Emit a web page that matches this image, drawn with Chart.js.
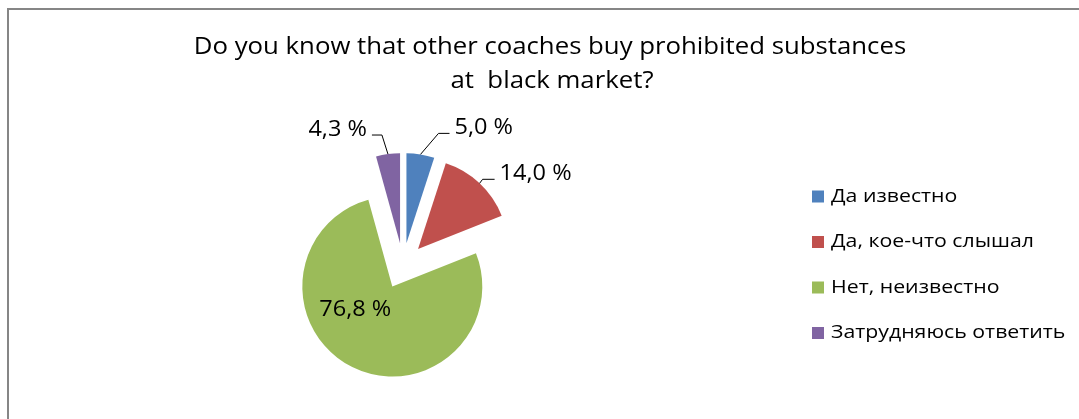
<!DOCTYPE html>
<html>
<head>
<meta charset="utf-8">
<script src="https://cdn.jsdelivr.net/npm/chart.js@4.4.1/dist/chart.umd.min.js"></script>
<style>
  html, body { margin: 0; padding: 0; background: #fff; }
  #wrap { position: relative; width: 1079px; height: 419px; }
</style>
</head>
<body>
<div id="wrap"><canvas id="pie"></canvas></div>
<script>
const TITLE_LINES = ['Do you know that other coaches buy prohibited substances', 'at  black market?'];
const CATEGORIES = ['Да известно', 'Да, кое-что слышал', 'Нет, неизвестно', 'Затрудняюсь ответить'];
const PERCENTS = [5.0, 14.0, 76.8, 4.3];
const COLORS = ['#4f81bd', '#c0504d', '#9bbb59', '#8064a2'];

const FONT = '"Open Sans", "Liberation Sans", sans-serif';
const STRETCH = 1.12; // Open Sans runs a bit narrow, widen it
const EXPLODE = [22, 22, 24, 22]; // how far each slice is pulled away from the centre

// leader lines: leg goes from the rim to the elbow, tail runs flat towards the text
const LABEL_LAYOUT = [
    { leg: [18, -21], tail: 11 },
    { leg: [3, -4], tail: 12 },
    { inside: [-37, 24] },
    { leg: [-6, -19], tail: -10 }
];

const fmtPct = v => v.toFixed(1).replace('.', ',') + ' %';

function drawText(ctx, txt, x, y) {
    ctx.save();
    ctx.translate(x, y);
    ctx.scale(STRETCH, 1);
    ctx.fillText(txt, 0, 0);
    ctx.restore();
}

const sliceGeom = (arc, i) => {
    const mid = (arc.startAngle + arc.endAngle) / 2;
    const cx = arc.x + Math.cos(mid) * EXPLODE[i];
    const cy = arc.y + Math.sin(mid) * EXPLODE[i];
    return { mid, cx, cy };
};

// draw each slice shifted along its middle angle
const explodedSlices = {
    id: 'explodedSlices',
    beforeDatasetDraw(chart, args) {
        const ctx = chart.ctx;
        args.meta.data.forEach((arc, i) => {
            const g = sliceGeom(arc, i);
            ctx.save();
            ctx.translate(g.cx - arc.x, g.cy - arc.y);
            arc.draw(ctx);
            ctx.restore();
        });
        return false;
    }
};

const sliceLabels = {
    id: 'sliceLabels',
    afterDraw(chart) {
        const ctx = chart.ctx;
        const arcs = chart.getDatasetMeta(0).data;
        ctx.save();
        ctx.font = '21px ' + FONT;
        ctx.fillStyle = '#000';
        ctx.strokeStyle = '#000';
        ctx.lineWidth = 1;
        arcs.forEach((arc, i) => {
            const lay = LABEL_LAYOUT[i];
            const g = sliceGeom(arc, i);
            const txt = fmtPct(PERCENTS[i]);
            if (lay.inside) {
                ctx.textAlign = 'center';
                ctx.textBaseline = 'middle';
                drawText(ctx, txt, g.cx + lay.inside[0], g.cy + lay.inside[1]);
                return;
            }
            const ax = g.cx + Math.cos(g.mid) * arc.outerRadius;
            const ay = g.cy + Math.sin(g.mid) * arc.outerRadius;
            const ex = ax + lay.leg[0], ey = ay + lay.leg[1];
            const tx = ex + lay.tail;
            ctx.beginPath();
            ctx.moveTo(ax, ay);
            ctx.lineTo(ex, ey);
            ctx.lineTo(tx, ey);
            ctx.stroke();
            ctx.textBaseline = 'alphabetic';
            ctx.textAlign = lay.tail > 0 ? 'left' : 'right';
            drawText(ctx, txt, tx + (lay.tail > 0 ? 5 : -5), ey + 1);
        });
        ctx.restore();
    }
};

const decorations = {
    id: 'decorations',
    beforeDraw(chart) {
        const ctx = chart.ctx;
        ctx.save();
        ctx.fillStyle = '#fff';
        ctx.fillRect(0, 0, chart.width, chart.height);
        // chart frame, cut by the right and bottom edges
        ctx.fillStyle = '#868686';
        ctx.fillRect(7, 8, 2, chart.height - 8);
        ctx.fillRect(7, 8, chart.width - 7, 2);
        ctx.restore();
    },
    afterDraw(chart) {
        const ctx = chart.ctx;
        ctx.save();
        ctx.fillStyle = '#000';
        ctx.textAlign = 'center';
        ctx.textBaseline = 'alphabetic';
        ctx.font = '23px ' + FONT;
        drawText(ctx, TITLE_LINES[0], 550, 54);
        drawText(ctx, TITLE_LINES[1], 552, 88);

        // legend
        ctx.textAlign = 'left';
        ctx.textBaseline = 'middle';
        ctx.font = '19px ' + FONT;
        CATEGORIES.forEach((name, i) => {
            const y = 196.5 + i * 45.5;
            ctx.fillStyle = COLORS[i];
            ctx.fillRect(812, y - 6, 12, 12);
            ctx.fillStyle = '#000';
            drawText(ctx, name, 831, y);
        });
        ctx.restore();
    }
};

new Chart(document.getElementById('pie'), {
    type: 'pie',
    data: {
        labels: CATEGORIES,
        datasets: [{
            data: PERCENTS,
            backgroundColor: COLORS,
            borderWidth: 0,
            offset: 0
        }]
    },
    options: {
        responsive: true,
        maintainAspectRatio: false,
        animation: false,
        radius: 90,
        layout: { padding: { left: 290, right: 563, top: 151, bottom: 40 } },
        plugins: {
            legend: { display: false },
            title: { display: false },
            tooltip: { enabled: false }
        },
        events: []
    },
    plugins: [decorations, explodedSlices, sliceLabels]
});
</script>
</body>
</html>
